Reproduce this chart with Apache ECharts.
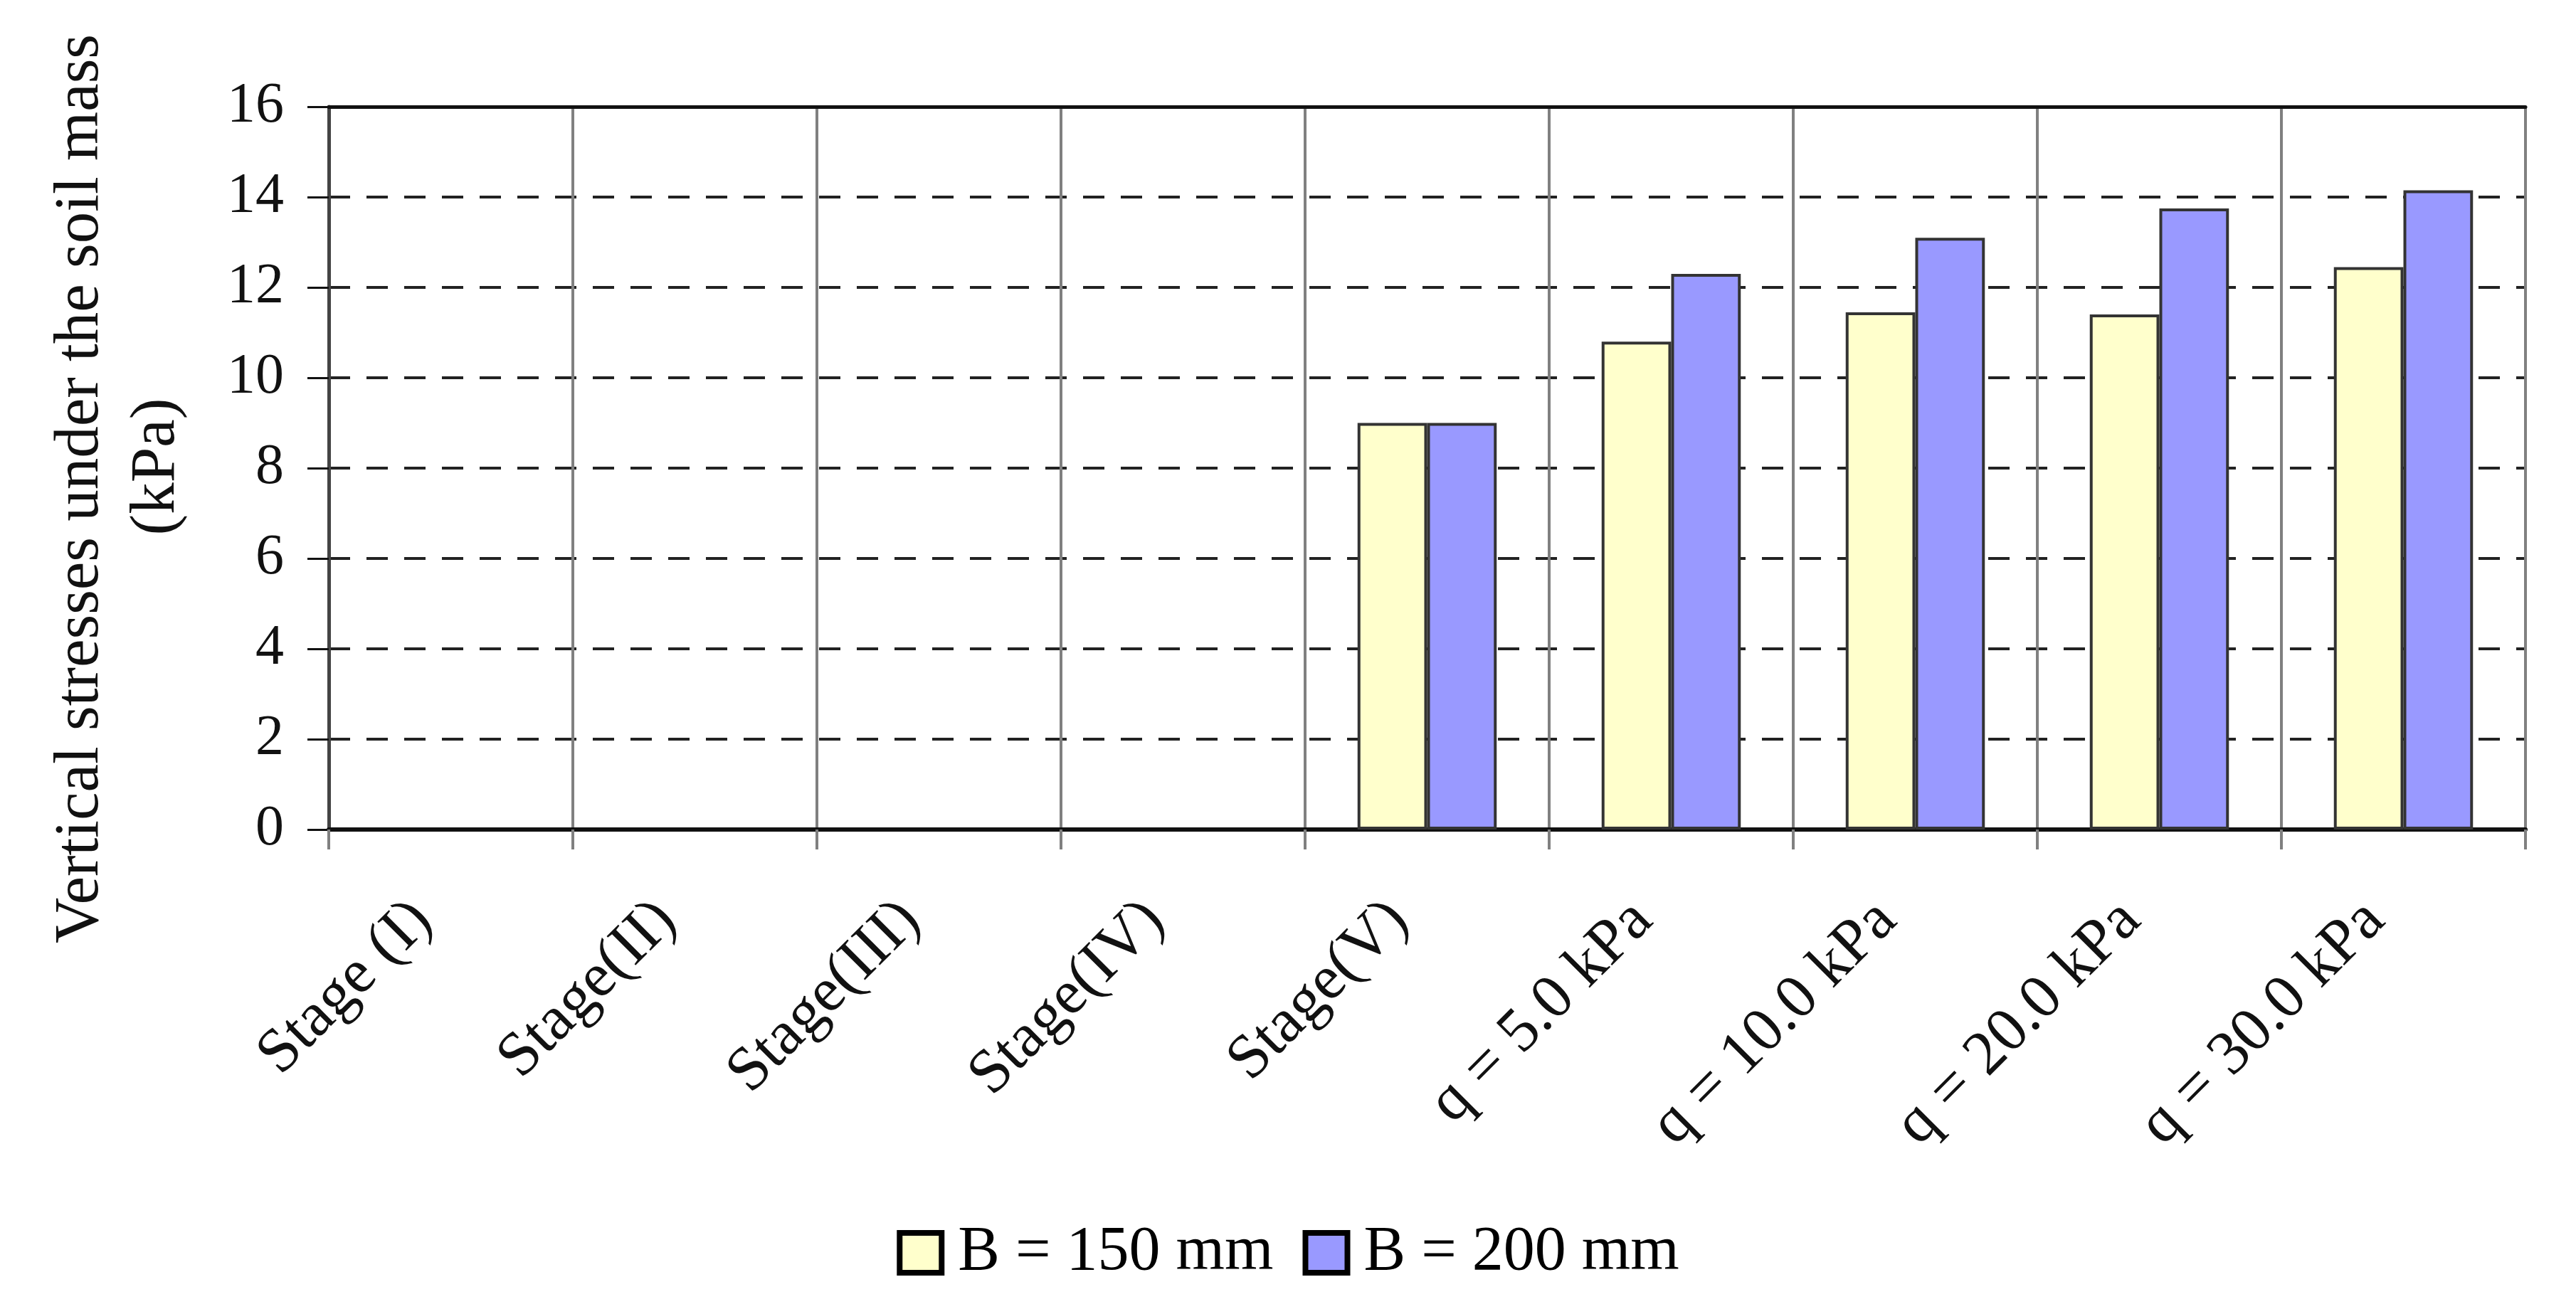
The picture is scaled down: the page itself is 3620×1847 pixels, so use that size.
<!DOCTYPE html>
<html lang="en">
	<head>
		<meta charset="UTF-8">
		<title>Vertical stresses</title>
		<script src="https://cdn.jsdelivr.net/npm/echarts@6/dist/echarts.min.js"></script>
		<style type="text/css">
			html, body {
				margin: 0;
				padding: 0;
				background-color: #FFFFFF;
			}
			#chart {
				width: 3620px;
				height: 1847px;
			}
		</style>
	</head>
	<body>
		<div id="chart"></div>
	</body>
	<script type="text/javascript">
		// categories on the x axis
		var stages = ['Stage (I)', 'Stage(II)', 'Stage(III)', 'Stage(IV)', 'Stage(V)', 'q = 5.0 kPa', 'q = 10.0 kPa', 'q = 20.0 kPa', 'q = 30.0 kPa'];
		// series values (kPa)
		var b150 = [null, null, null, null, 9.0, 10.8, 11.45, 11.4, 12.45];
		var b200 = [null, null, null, null, 9.0, 12.3, 13.1, 13.75, 14.15];
		var seriesNames = ['B = 150 mm', 'B = 200 mm'];

		var font = 'Liberation Serif';
		var chart = echarts.init(document.getElementById('chart'));
		var option = {
			backgroundColor: '#FFFFFF',
			animation: false,
			legend: {
				left: 'center',
				top: 1712,
				itemWidth: 59,
				itemHeight: 56,
				itemGap: 41,
				textStyle: {
					fontFamily: font,
					fontSize: 88,
					color: '#000',
					padding: [0, 0, 0, 18]
				},
				data: [
					{ name: seriesNames[0], icon: 'rect', itemStyle: { color: '#FFFFCC', borderColor: '#000', borderWidth: 8 } },
					{ name: seriesNames[1], icon: 'rect', itemStyle: { color: '#9999FF', borderColor: '#000', borderWidth: 8 } }
				]
			},
			grid: {
				left: 462,
				right: 71,
				top: 150,
				bottom: 681,
				containLabel: false,
				outerBoundsMode: 'none'
			},
			xAxis: [
				{
					type: 'category',
					data: stages,
					axisLine: { show: true, lineStyle: { color: '#111', width: 6 } },
					axisTick: { show: true, length: 28, lineStyle: { color: '#808080', width: 4 } },
					splitLine: { show: true, lineStyle: { color: '#808080', width: 4 } },
					axisLabel: {
						interval: 0,
						rotate: 45,
						margin: 75,
						padding: [0, 56, 0, 0],
						fontFamily: font,
						fontSize: 88,
						color: '#111'
					}
				},
				{
					type: 'category',
					position: 'top',
					data: stages,
					axisLine: { show: true, lineStyle: { color: '#111', width: 5 } },
					axisTick: { show: false },
					axisLabel: { show: false },
					splitLine: { show: false }
				}
			],
			yAxis: {
				type: 'value',
				min: 0,
				max: 16,
				interval: 2,
				name: '{a|Vertical stresses under the soil mass}\n{b|(kPa)}',
				nameLocation: 'middle',
				nameRotate: 90,
				nameGap: 188,
				nameTextStyle: {
					fontFamily: font,
					fontSize: 89,
					lineHeight: 107,
					color: '#111',
					padding: [0, 58, 0, 0],
					rich: {
						a: { fontFamily: font, fontSize: 89, lineHeight: 107, color: '#111' },
						b: { fontFamily: font, fontSize: 89, lineHeight: 107, color: '#111', padding: [0, 0, 0, 62] }
					}
				},
				axisLine: { show: true, lineStyle: { color: '#444', width: 5 } },
				axisTick: { show: true, length: 30, lineStyle: { color: '#111', width: 3 } },
				axisLabel: {
					margin: 63,
					fontFamily: font,
					fontSize: 80,
					color: '#111'
				},
				splitLine: {
					show: true,
					lineStyle: { color: '#222', width: 4, type: [30, 23] }
				}
			},
			series: [
				{
					name: seriesNames[0],
					type: 'bar',
					data: b150,
					barWidth: '28.5%',
					barGap: '0%',
					itemStyle: { color: '#FFFFCC', borderColor: '#333', borderWidth: 4 }
				},
				{
					name: seriesNames[1],
					type: 'bar',
					data: b200,
					barWidth: '28.5%',
					barGap: '0%',
					itemStyle: { color: '#9999FF', borderColor: '#333', borderWidth: 4 }
				}
			]
		};
		chart.setOption(option);
	</script>
</html>
